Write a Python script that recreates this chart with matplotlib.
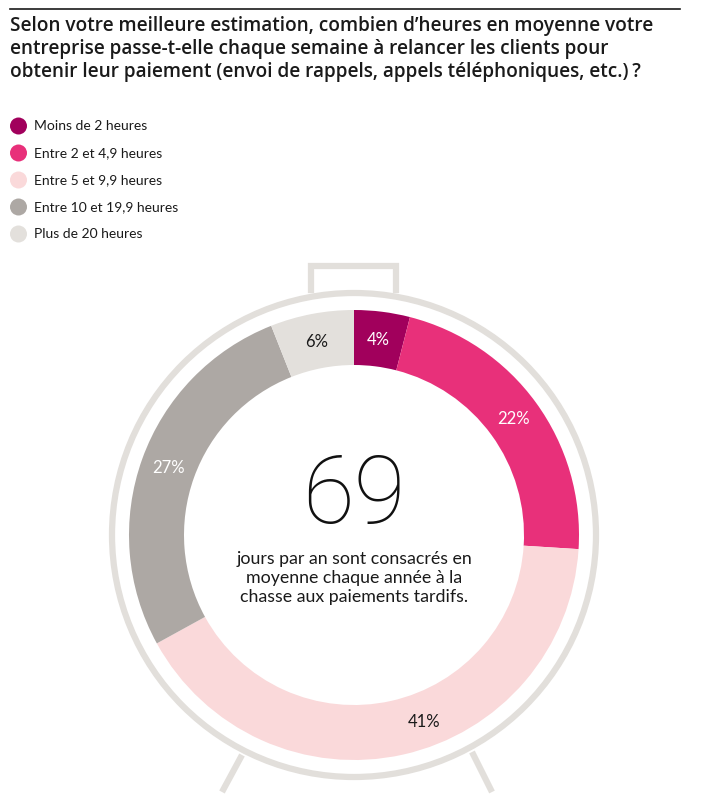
import numpy as np
import matplotlib.pyplot as plt
from matplotlib.patches import Circle

# data
categories = ['Moins de 2 heures', 'Entre 2 et 4,9 heures', 'Entre 5 et 9,9 heures',
              'Entre 10 et 19,9 heures', 'Plus de 20 heures']
shares = [4, 22, 41, 27, 6]
colors = ['#A1005C', '#E8307A', '#FAD9DA', '#ADA8A4', '#E3E0DC']
label_colors = ['white', 'white', '#1a1a1a', 'white', '#1a1a1a']
title = ("Selon votre meilleure estimation, combien d\u2019heures en moyenne votre\n"
         "entreprise passe-t-elle chaque semaine \u00e0 relancer les clients pour\n"
         "obtenir leur paiement (envoi de rappels, appels t\u00e9l\u00e9phoniques, etc.)\u2009?")
big_number = '69'
big_text = "jours par an sont consacr\u00e9s en\nmoyenne chaque ann\u00e9e \u00e0 la\nchasse aux paiements tardifs."

W, H = 712, 807
fig = plt.figure(figsize=(W / 100, H / 100), dpi=100)
ax = fig.add_axes([0, 0, 1, 1])

def py(y):
    # pixel row -> data y
    return H - y

cx, cy = 354, py(535)
R, ring_w = 225, 55
ring = '#E2DFDB'

# stopwatch frame
ax.add_patch(Circle((cx, cy), 242, fill=False, ec=ring, lw=4.5))
ax.plot([311, 311, 396, 396], [py(290), py(266), py(266), py(290)], color=ring, lw=4.5,
        solid_joinstyle='miter')
ax.plot([cx - 112, cx - 132], [py(755), py(792)], color=ring, lw=4.5, solid_capstyle='butt')
ax.plot([cx + 118, cx + 138], [py(752), py(792)], color=ring, lw=4.5, solid_capstyle='butt')

# donut
wedges, _, pcts = ax.pie(shares, colors=colors, startangle=90, counterclock=False,
                         center=(cx, cy), radius=R, autopct='%d%%', pctdistance=0.875,
                         wedgeprops=dict(width=ring_w, linewidth=0),
                         textprops=dict(fontsize=12, family=['Lato', 'DejaVu Sans']))
for t, c in zip(pcts, label_colors):
    t.set_color(c)

# the 41% label sits off-centre in the original, nearer the bottom
a = np.deg2rad(90 - 159.5)
pcts[2].set_position((cx + 200 * np.cos(a), cy + 200 * np.sin(a)))

ax.text(cx, py(497), big_number, ha='center', va='center', fontsize=68,
        fontweight='light', family=['Roboto', 'DejaVu Sans'], color='#111111')
ax.text(cx, py(578), big_text, ha='center', va='center', fontsize=12.8,
        linespacing=1.2, family=['Lato', 'DejaVu Sans'], color='#1a1a1a')

# title
ax.plot([10, 680], [py(9), py(9)], color='#1a1a1a', lw=1.2)
ax.text(10, py(16), title, ha='left', va='top', fontsize=13.7, fontweight='semibold',
        family=['Open Sans', 'DejaVu Sans'], color='#1a1a1a', linespacing=1.2)

# legend
for i, (lab, col) in enumerate(zip(categories, colors)):
    y = py(126 + 27 * i)
    ax.add_patch(Circle((18.5, y), 8.5, color=col, lw=0))
    ax.text(34, y, lab, ha='left', va='center', fontsize=10,
            family=['Lato', 'DejaVu Sans'], color='#1a1a1a')

ax.set_xlim(0, W)
ax.set_ylim(0, H)
ax.set_aspect('auto')
ax.axis('off')

fig.savefig('out.png', dpi=100)
